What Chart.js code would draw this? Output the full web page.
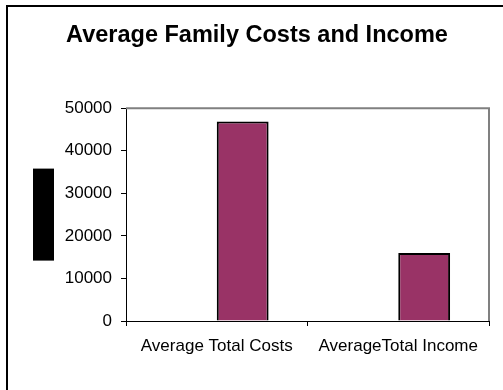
<!DOCTYPE html>
<html>
<head>
<meta charset="utf-8">
<script src="https://cdn.jsdelivr.net/npm/chart.js@4/dist/chart.umd.min.js"></script>
<style>
  body { margin: 0; background: #fff; }
  canvas { display: block; }
</style>
</head>
<body>
<canvas id="chart" width="503" height="390"></canvas>
<script>
// chart data
const categories = ["Average Total Costs", "AverageTotal Income"];
const emptySeries = [null, null];
const familyValues = [46900, 16000];
const yTicks = [0, 10000, 20000, 30000, 40000, 50000];

const FONT = "'Liberation Sans', Arial, sans-serif";

// frame, plot border and the blacked-out axis title
const framePlugin = {
  id: "frame",
  beforeDraw(chart) {
    const ctx = chart.ctx;
    ctx.save();
    ctx.fillStyle = "#fff";
    ctx.fillRect(0, 0, chart.width, chart.height);
    ctx.strokeStyle = "#000";
    ctx.lineWidth = 2;
    ctx.beginPath();
    ctx.moveTo(7, chart.height);
    ctx.lineTo(7, 6);
    ctx.lineTo(chart.width, 6);
    ctx.stroke();
    ctx.restore();
  },
  afterDatasetsDraw(chart) {
    const ctx = chart.ctx;
    const a = chart.chartArea;
    ctx.save();
    ctx.strokeStyle = "#808080";
    ctx.lineWidth = 2;
    ctx.beginPath();
    ctx.moveTo(a.left, a.top);
    ctx.lineTo(a.right, a.top);
    ctx.lineTo(a.right, a.bottom);
    ctx.stroke();
    // y axis title is covered by a black box
    const mid = (a.top + a.bottom) / 2;
    ctx.fillStyle = "#000";
    ctx.fillRect(a.left - 93, mid - 46, 21, 92);
    ctx.restore();
  }
};

new Chart(document.getElementById("chart"), {
  type: "bar",
  data: {
    labels: categories,
    datasets: [
      {
        label: "Series 1",
        data: emptySeries,
        backgroundColor: "#993366",
        borderColor: "#000",
        borderWidth: 2
      },
      {
        label: "Series 2",
        data: familyValues,
        backgroundColor: "#993366",
        borderColor: "#000",
        borderWidth: 2
      }
    ]
  },
  options: {
    responsive: false,
    animation: false,
    devicePixelRatio: 1,
    // excel gap width 150%
    categoryPercentage: 0.5714,
    barPercentage: 1,
    layout: {
      padding: { left: 25, right: 14, top: 0, bottom: 0 }
    },
    plugins: {
      legend: { display: false },
      tooltip: { enabled: false },
      title: {
        display: true,
        text: "Average Family Costs and Income",
        color: "#000",
        font: { family: FONT, size: 23.5, weight: "bold" },
        padding: { top: 21, bottom: 59 }
      }
    },
    scales: {
      x: {
        grid: {
          offset: true,
          drawOnChartArea: false,
          drawTicks: true,
          tickLength: 5,
          color: "#000"
        },
        border: { color: "#000", width: 1 },
        ticks: {
          color: "#000",
          font: { family: FONT, size: 17 },
          padding: 10,
          maxRotation: 0
        },
        afterFit(scale) {
          scale.height = 69;
        }
      },
      y: {
        min: 0,
        max: 50000,
        afterBuildTicks(scale) {
          scale.ticks = yTicks.map(v => ({ value: v }));
        },
        grid: {
          drawOnChartArea: false,
          drawTicks: true,
          tickLength: 5,
          color: "#000"
        },
        border: { color: "#000", width: 1 },
        ticks: {
          color: "#000",
          font: { family: FONT, size: 17 },
          padding: 9,
          callback: v => String(v)
        },
        afterFit(scale) {
          scale.width = 101;
        }
      }
    }
  },
  plugins: [framePlugin]
});
</script>
</body>
</html>
